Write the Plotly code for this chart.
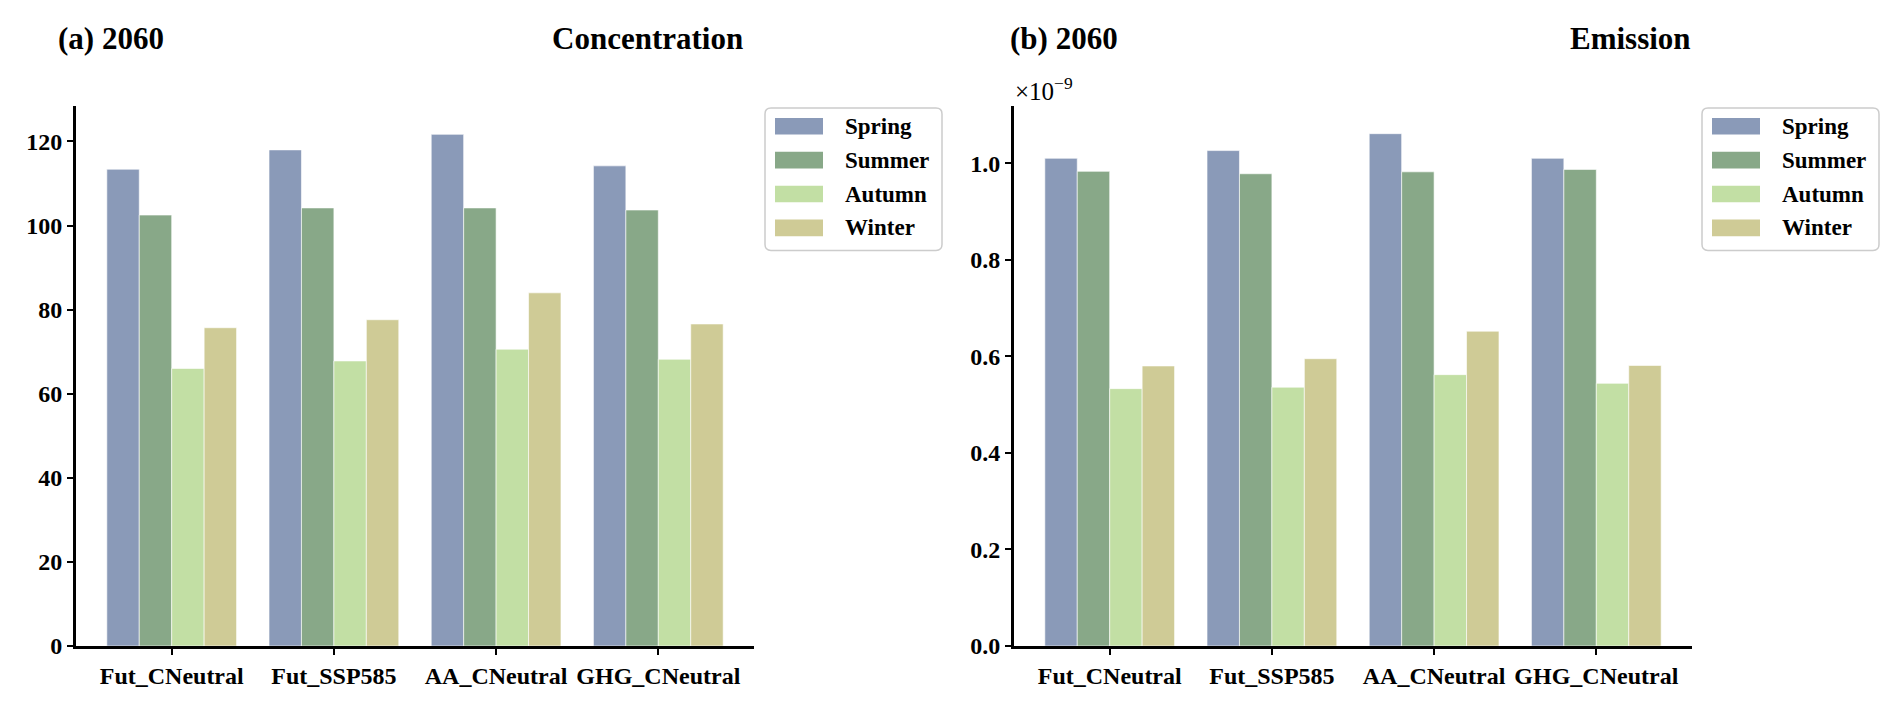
import plotly.graph_objects as go

W, H = 1892, 706

scenarios = ["Fut_CNeutral", "Fut_SSP585", "AA_CNeutral", "GHG_CNeutral"]
seasons = ["Spring", "Summer", "Autumn", "Winter"]
colors = ["#8A9AB8", "#88A888", "#C2DFA4", "#CFCB96"]

# (a) Concentration
conc_spring = [113.4, 118.0, 121.7, 114.2]
conc_summer = [102.5, 104.2, 104.2, 103.7]
conc_autumn = [66.0, 67.8, 70.6, 68.2]
conc_winter = [75.7, 77.6, 84.0, 76.6]

# (b) Emission, in units of 1e-9
emis_spring = [1.010, 1.026, 1.061, 1.010]
emis_summer = [0.983, 0.978, 0.982, 0.987]
emis_autumn = [0.533, 0.536, 0.562, 0.544]
emis_winter = [0.580, 0.595, 0.652, 0.581]

conc_ticks = [0, 20, 40, 60, 80, 100, 120]
emis_ticks = [0.0, 0.2, 0.4, 0.6, 0.8, 1.0]

conc = [conc_spring, conc_summer, conc_autumn, conc_winter]
emis = [emis_spring, emis_summer, emis_autumn, emis_winter]

FONT = "Liberation Serif"


def px(x):
    return x / W


def py(y):
    return 1 - y / H


fig = go.Figure()
for i, s in enumerate(seasons):
    fig.add_trace(go.Bar(x=scenarios, y=conc[i], name=s, marker_color=colors[i],
                         marker_line=dict(color="rgba(255,255,255,0.6)", width=1),
                         xaxis="x", yaxis="y", showlegend=False))
    fig.add_trace(go.Bar(x=scenarios, y=emis[i], name=s, marker_color=colors[i],
                         marker_line=dict(color="rgba(255,255,255,0.6)", width=1),
                         xaxis="x2", yaxis="y2", showlegend=False))

ydom = [py(650), py(100)]
axcommon = dict(showline=True, linecolor="black", linewidth=3, ticks="outside",
                ticklen=6, tickwidth=1.5, tickcolor="black", showgrid=False, zeroline=False,
                tickfont=dict(family=FONT, size=24, color="black", weight="bold"))

fig.update_layout(
    width=W, height=H, autosize=False,
    margin=dict(l=0, r=0, t=0, b=0),
    paper_bgcolor="white", plot_bgcolor="white",
    barmode="group", bargap=0.2, bargroupgap=0,
    xaxis=dict(domain=[px(68), px(746)], range=[-0.59, 3.59], anchor="y", **axcommon),
    yaxis=dict(domain=ydom, range=[0, 128.4], anchor="x", tickvals=conc_ticks, **axcommon),
    xaxis2=dict(domain=[px(1006), px(1684)], range=[-0.59, 3.59], anchor="y2", **axcommon),
    yaxis2=dict(domain=ydom, range=[0, 1.118], anchor="x2", tickvals=emis_ticks,
                tickformat=".1f", **axcommon),
)

ann = []
tf = dict(family=FONT, size=31, color="black", weight="bold")
ann.append(dict(text="(a) 2060", x=px(48), y=py(31), xref="paper", yref="paper",
                xanchor="left", yanchor="middle", showarrow=False, font=tf))
ann.append(dict(text="Concentration", x=px(737), y=py(31), xref="paper", yref="paper",
                xanchor="right", yanchor="middle", showarrow=False, font=tf))
ann.append(dict(text="(b) 2060", x=px(1000), y=py(31), xref="paper", yref="paper",
                xanchor="left", yanchor="middle", showarrow=False, font=tf))
ann.append(dict(text="Emission", x=px(1685), y=py(31), xref="paper", yref="paper",
                xanchor="right", yanchor="middle", showarrow=False, font=tf))
ann.append(dict(text="×10<sup>−9</sup>", x=px(1005), y=py(83), xref="paper", yref="paper",
                xanchor="left", yanchor="middle", showarrow=False,
                font=dict(family=FONT, size=25, color="black")))

shapes = []


def rounded_box(x0, y0, x1, y1, r):
    def P(x, y):
        return f"{px(x):.6f},{py(y):.6f}"
    path = (f"M {P(x0 + r, y0)} L {P(x1 - r, y0)} Q {P(x1, y0)} {P(x1, y0 + r)} "
            f"L {P(x1, y1 - r)} Q {P(x1, y1)} {P(x1 - r, y1)} "
            f"L {P(x0 + r, y1)} Q {P(x0, y1)} {P(x0, y1 - r)} "
            f"L {P(x0, y0 + r)} Q {P(x0, y0)} {P(x0 + r, y0)} Z")
    return dict(type="path", path=path, xref="paper", yref="paper",
                line=dict(color="#CCCCCC", width=1.5), fillcolor="white", layer="above")


for lx in (757, 1694):
    top = 102
    shapes.append(rounded_box(lx, top, lx + 177, top + 145, 6))
    for i, s in enumerate(seasons):
        cy = top + 18.5 + i * 34.5
        shapes.append(dict(type="rect", xref="paper", yref="paper",
                           x0=px(lx + 10), x1=px(lx + 58), y0=py(cy + 8.5), y1=py(cy - 8.5),
                           fillcolor=colors[i], line=dict(width=0), layer="above"))
        ann.append(dict(text=s, x=px(lx + 78), y=py(cy), xref="paper", yref="paper",
                        xanchor="left", yanchor="middle", showarrow=False,
                        font=dict(family=FONT, size=23, color="black", weight="bold")))

fig.update_layout(annotations=ann, shapes=shapes)
fig.write_html("out.html")
